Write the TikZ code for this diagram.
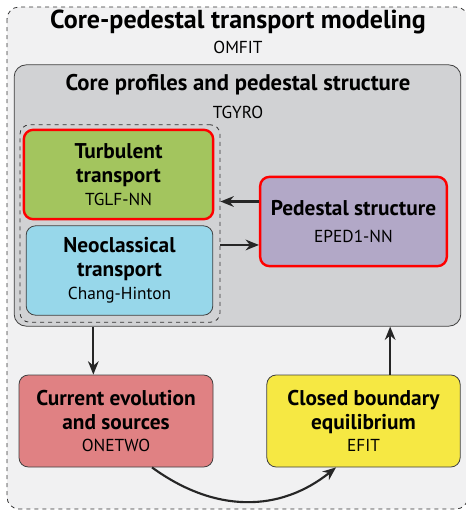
\documentclass[tikz,border=0pt]{standalone}
\usepackage{fontspec}
\setmainfont{PT Sans}
\usetikzlibrary{arrows.meta,positioning}

\definecolor{outerbg}{HTML}{F1F1F2}
\definecolor{corebg}{HTML}{D1D2D4}
\definecolor{turbgreen}{HTML}{A3C55E}
\definecolor{neoblue}{HTML}{97D7EA}
\definecolor{pedpurple}{HTML}{B2A8C7}
\definecolor{curpink}{HTML}{E08183}
\definecolor{eqyellow}{HTML}{F6E843}

\tikzset{
  box/.style={draw=black!75, line width=0.6pt, rounded corners=7pt, align=center,
    inner sep=0pt, font=\fontsize{16}{18}\selectfont},
  hot/.style={draw=red, line width=1.8pt},
  flow/.style={-{Stealth[length=10pt,width=8pt]}, line width=1.6pt, black!85},
  head/.style={font=\fontsize{17}{20}\selectfont\bfseries},
  sub/.style={font=\fontsize{13}{15}\selectfont},
}
\newcommand{\subtxt}[1]{{\fontsize{13}{15}\selectfont #1}}

\begin{document}
\begin{tikzpicture}[x=0.75pt,y=-0.75pt]
    \useasboundingbox (0,0) rectangle (465,511);
    % outer frame
    \draw[dashed, black!80, fill=outerbg, rounded corners=9pt, line width=0.6pt] (7,7) rectangle (468,509);
    \node[font=\fontsize{19.5}{22}\selectfont\bfseries] (title) at (238,22) {Core-pedestal transport modeling};
    \node[sub] (omfit) at (238,47) {OMFIT};

    % core profiles
    \node[draw=black!75, fill=corebg, rounded corners=9pt, line width=0.6pt,
      minimum width=335pt, minimum height=196pt, inner sep=0pt] (core) at (237.5,195.5) {};
    \node[head] (coretitle) at (238,85) {Core profiles and pedestal structure};
    \node[sub] (tgyro) at (238,112) {TGYRO};
    \node[draw=black!80, dashed, rounded corners=7pt, line width=0.6pt,
      minimum width=150pt, minimum height=148pt, inner sep=0pt] (grp) at (120,223.5) {};

    \node[box, hot, fill=turbgreen, minimum width=142pt, minimum height=67pt] (turb) at (118.5,174.5)
      {\textbf{Turbulent}\\\textbf{transport}\\[-1pt]\subtxt{TGLF-NN}};
    \node[box, fill=neoblue, minimum width=140pt, minimum height=67pt] (neo) at (119.5,270.5)
      {\textbf{Neoclassical}\\\textbf{transport}\\[-1pt]\subtxt{Chang-Hinton}};
    \node[box, hot, fill=pedpurple, minimum width=140pt, minimum height=67pt] (ped) at (353.5,221.5)
      {\textbf{Pedestal structure}\\[2pt]\subtxt{EPED1-NN}};

    % outside the core loop
    \node[box, fill=curpink, minimum width=145.5pt, minimum height=69pt] (cur) at (116,421)
      {\textbf{Current evolution}\\\textbf{and sources}\\[-1pt]\subtxt{ONETWO}};
    \node[box, fill=eqyellow, minimum width=145pt, minimum height=69pt] (eq) at (363.5,421)
      {\textbf{Closed boundary}\\\textbf{equilibrium}\\[-1pt]\subtxt{EFIT}};

    % couplings
    \draw[flow] ([yshift=15pt]ped.west) -- ([yshift=15pt]ped.west -| grp.east);
    \draw[flow] ([yshift=-17.6pt]ped.west -| grp.east) -- ([yshift=-17.6pt]ped.west);
    \draw[flow] ([xshift=-17pt]cur.north |- core.south) -- ([xshift=-17pt]cur.north);
    \draw[flow] ([xshift=20pt]eq.north) -- ([xshift=20pt]eq.north |- core.south);
    \draw[flow] ([xshift=27pt]cur.south) .. controls +(63,46) and +(-56,45) .. ([xshift=-20.6pt]eq.south);
\end{tikzpicture}
\end{document}
